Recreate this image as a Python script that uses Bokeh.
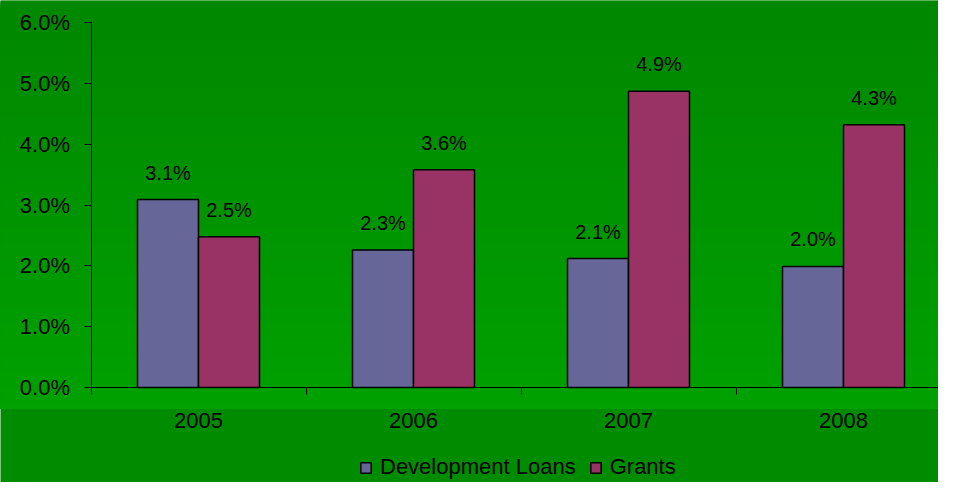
import numpy as np
from bokeh.plotting import figure
from bokeh.models import Range1d, LinearAxis, FixedTicker, PrintfTickFormatter, ColumnDataSource
from bokeh.core.properties import value
from bokeh.embed import file_html
from bokeh.resources import INLINE

# ---------------- data ----------------
years = ["2005", "2006", "2007", "2008"]
loans = [3.09, 2.26, 2.12, 1.99]     # Development Loans, %
grants = [2.48, 3.58, 4.87, 4.32]    # Grants, %
y_ticks = [0, 1, 2, 3, 4, 5, 6]

# ---------------- layout constants ----------------
W, H = 938, 482
PX_X = 215.0      # pixels per category
PX_Y = 60.833     # pixels per percentage point
CX0, CY0 = 198.0, 387.0   # canvas px of category 0 centre / zero line
FONT = "Liberation Sans"
BAR_W = 61.0 / PX_X
BAND = 408        # canvas px where the lower band starts

x_range = Range1d(-CX0 / PX_X, (W - CX0) / PX_X)
y_range = Range1d(-(H - CY0) / PX_Y, CY0 / PX_Y)

p = figure(width=W, height=H, x_range=x_range, y_range=y_range,
           output_backend="svg", toolbar_location=None,
           x_axis_location=None, y_axis_location=None,
           min_border=0, min_border_left=0, min_border_right=0,
           min_border_top=0, min_border_bottom=0)
p.outline_line_color = None
p.grid.visible = False
p.background_fill_color = "#008c00"
p.border_fill_color = "#008c00"

# ---------------- background gradient (upper band) ----------------
def px_to_y(r):
    return (CY0 - r) / PX_Y

g_bottom = px_to_y(BAND)
rows = np.arange(0, BAND, 2)
tops, cols = [], []
for r in rows:
    t = r / float(BAND)
    g = int(round(0x87 + (0xa1 - 0x87) * t))
    tops.append(px_to_y(r))
    cols.append("#00%02x00" % g)
p.quad(left=-5, right=10, top=tops, bottom=[g_bottom] * len(tops),
       fill_color=cols, line_color=None)

# ---------------- bars ----------------
xc = np.arange(len(years))
src_l = ColumnDataSource(dict(x=xc - BAR_W / 2, top=loans,
                              lab=["%.1f%%" % v for v in loans]))
src_g = ColumnDataSource(dict(x=xc + BAR_W / 2, top=grants,
                              lab=["%.1f%%" % v for v in grants]))

p.vbar(x="x", top="top", bottom=0, width=BAR_W, source=src_l,
       fill_color="#666699", line_color="black", line_width=1.5,
       legend_label="Development Loans")
p.vbar(x="x", top="top", bottom=0, width=BAR_W, source=src_g,
       fill_color="#993366", line_color="black", line_width=1.5,
       legend_label="Grants")

for s in (src_l, src_g):
    p.text(x="x", y="top", text="lab", source=s, text_align="center",
           text_baseline="alphabetic", y_offset=-27,
           text_font=value(FONT), text_font_size="20px", text_color="black")

# ---------------- axes ----------------
yax = LinearAxis(fixed_location=-0.5, ticker=FixedTicker(ticks=y_ticks),
                 formatter=PrintfTickFormatter(format="%.1f%%"),
                 bounds=(0, 6))
yax.axis_line_color = "black"
yax.axis_line_width = 1
yax.major_tick_line_color = "black"
yax.major_tick_out = 7
yax.major_tick_in = 0
yax.minor_tick_line_color = None
yax.major_label_standoff = 14
yax.major_label_text_font = FONT
yax.major_label_text_font_size = "22px"
yax.major_label_text_color = "black"
p.add_layout(yax, "left")

xtick = LinearAxis(fixed_location=0,
                   ticker=FixedTicker(ticks=[-0.5, 0.5, 1.5, 2.5, 3.5]),
                   bounds=(-0.5, 3.5))
xtick.axis_line_color = "black"
xtick.major_tick_line_color = "black"
xtick.major_tick_out = 7
xtick.major_tick_in = 0
xtick.minor_tick_line_color = None
xtick.major_label_text_alpha = 0
xtick.major_label_text_font_size = "1px"
p.add_layout(xtick, "below")

xlab = LinearAxis(fixed_location=0, ticker=FixedTicker(ticks=list(xc)))
xlab.major_label_overrides = {int(i): y for i, y in zip(xc, years)}
xlab.axis_line_color = None
xlab.major_tick_line_color = None
xlab.major_tick_out = 0
xlab.major_tick_in = 0
xlab.minor_tick_line_color = None
xlab.major_label_standoff = 25
xlab.major_label_text_font = FONT
xlab.major_label_text_font_size = "22px"
xlab.major_label_text_color = "black"
p.add_layout(xlab, "below")

# ---------------- legend ----------------
lg = p.legend[0]
lg.orientation = "horizontal"
lg.location = (359, 2)
lg.background_fill_alpha = 0
lg.border_line_color = None
lg.padding = 0
lg.margin = 0
lg.spacing = 13
lg.glyph_width = 13
lg.glyph_height = 13
lg.label_standoff = 8
lg.label_text_font = FONT
lg.label_text_font_size = "22px"
lg.label_text_color = "black"

open("out.html", "w").write(file_html(p, INLINE))
